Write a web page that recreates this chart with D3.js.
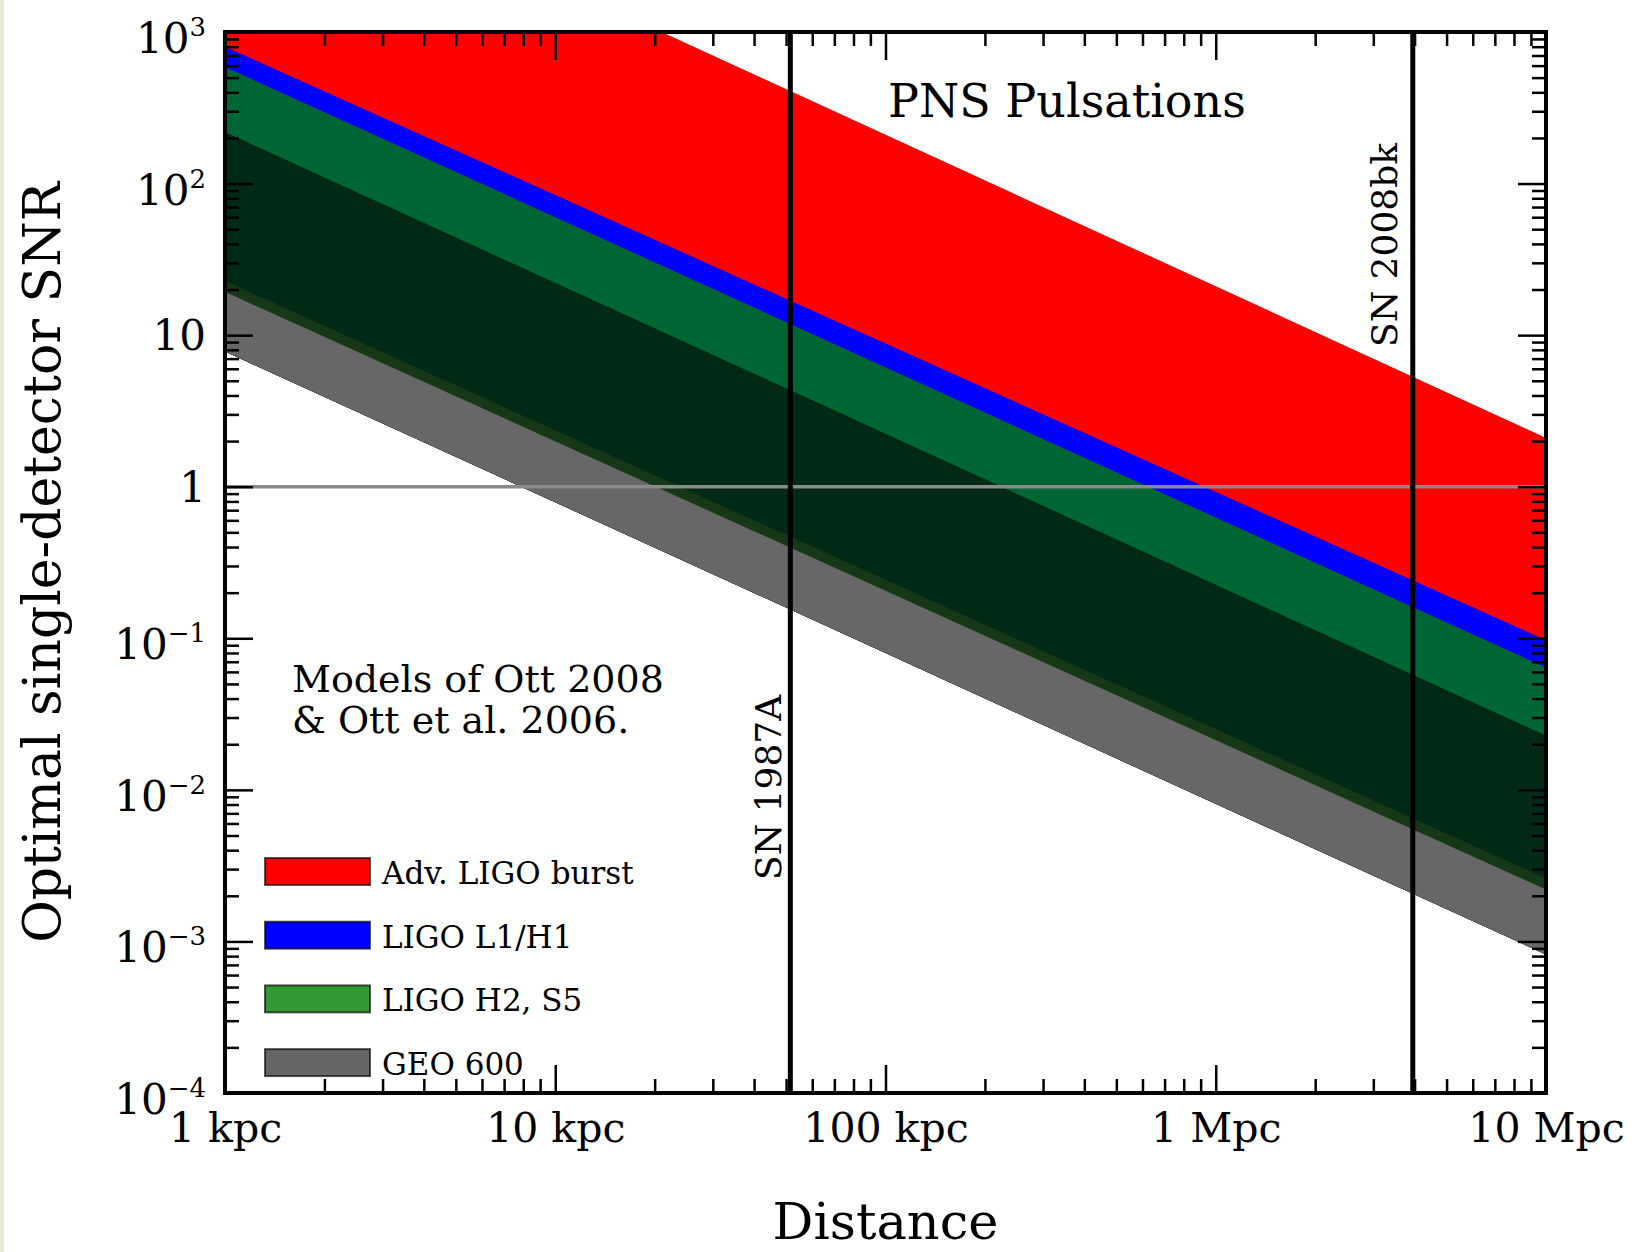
<!DOCTYPE html>
<html>
<head>
<meta charset="utf-8">
<script src="https://cdn.jsdelivr.net/npm/d3@7"></script>
<style>
  body { margin: 0; background: #fff; }
  svg { display: block; }
  text { font-family: "DejaVu Serif", serif; fill: #000; }
</style>
</head>
<body>
<svg id="chart" width="1636" height="1252"></svg>
<script>
// ---- data -------------------------------------------------------------
// Distance span of the plot (kpc): 1 kpc to 10 Mpc
const distanceKpc = [1, 10000];

// Shaded SNR bands, top to bottom: SNR at 1 kpc and at 10 Mpc (SNR ~ 1/D)
const bandUpperAt1kpc  = [21000, 800,   588,   219,    22.8,   19.3];
const bandLowerAt1kpc  = [800,   588,   219,   22.8,   19.3,   7.8];
const bandUpperAt10Mpc = [2.1,   0.097, 0.064, 0.0228, 0.0026, 0.0022];
const bandLowerAt10Mpc = [0.097, 0.064, 0.0228, 0.0026, 0.0022, 0.00082];
const bandFills = ["#ff0000", "#0000ff", "#006633", "#002916", "#163816", "#676767"];

// Detector legend
const legendLabels = ["Adv. LIGO burst", "LIGO L1/H1", "LIGO H2, S5", "GEO 600"];
const legendColors = ["#ff0000", "#0000ff", "#339933", "#666666"];

// Nearby supernovae (distance in kpc)
const supernovaNames = ["SN 1987A", "SN 2008bk"];
const supernovaDistKpc = [51.5, 3950];

// Axis ticks
const xTickValues = [1, 10, 100, 1000, 10000];
const xTickLabels = ["1 kpc", "10 kpc", "100 kpc", "1 Mpc", "10 Mpc"];
const yTickValues = [1e-4, 1e-3, 1e-2, 1e-1, 1, 10, 100, 1000];
const yTickMantissa = ["10", "10", "10", "10", "1", "10", "10", "10"];
const yTickExponent = ["\u22124", "\u22123", "\u22122", "\u22121", "", "", "2", "3"];

// ---- layout -----------------------------------------------------------
const W = 1636, H = 1252;
const L = 225, R = 1546, T = 32, B = 1093;

const svg = d3.select("#chart");
svg.append("rect").attr("width", W).attr("height", H).attr("fill", "#fff");
svg.append("rect").attr("x", 0).attr("y", 0).attr("width", 4).attr("height", H).attr("fill", "#e3ecd6");

const x = d3.scaleLog().domain([distanceKpc[0], distanceKpc[1]]).range([L, R]);
const y = d3.scaleLog().domain([1e-4, 1e3]).range([B, T]);

svg.append("clipPath").attr("id", "plotClip")
  .append("rect").attr("x", L).attr("y", T).attr("width", R - L).attr("height", B - T);

const plot = svg.append("g").attr("clip-path", "url(#plotClip)");

// Bands: straight in log-log between their two end values. Each one is
// painted from its upper edge down to the lowest edge, top band first, so
// the next band covers the rest and no seams show between neighbours.
const last = bandFills.length - 1;
const bands = bandFills.map((fill, i) => ({
  fill,
  pts: [
    { d: distanceKpc[0], lo: bandLowerAt1kpc[last],  hi: bandUpperAt1kpc[i] },
    { d: distanceKpc[1], lo: bandLowerAt10Mpc[last], hi: bandUpperAt10Mpc[i] }
  ]
}));
const area = d3.area()
  .x(p => x(p.d))
  .y0(p => y(p.lo))
  .y1(p => y(p.hi));
plot.selectAll("path.band").data(bands).join("path")
  .attr("class", "band")
  .attr("d", b => area(b.pts))
  .attr("fill", b => b.fill);

// SNR = 1 reference line
plot.append("line")
  .attr("x1", L).attr("x2", R)
  .attr("y1", y(1)).attr("y2", y(1))
  .attr("stroke", "#8a8a8a").attr("stroke-width", 3.5);

// Supernova distance markers
plot.selectAll("line.sn").data(supernovaDistKpc).join("line")
  .attr("class", "sn")
  .attr("x1", d => x(d)).attr("x2", d => x(d))
  .attr("y1", T).attr("y2", B)
  .attr("stroke", "#000").attr("stroke-width", 5);

const snLabelY = [880, 347];
const snLabelOffset = [9, 16];
svg.selectAll("text.snlab").data(supernovaNames).join("text")
  .attr("class", "snlab")
  .attr("transform", (d, i) => `translate(${x(supernovaDistKpc[i]) - snLabelOffset[i]},${snLabelY[i]}) rotate(-90)`)
  .style("font-size", "36px")
  .text(d => d);

// Annotations
svg.append("text").attr("x", 888).attr("y", 117).style("font-size", "46px").text("PNS Pulsations");
svg.append("text").attr("x", 292).attr("y", 692).style("font-size", "38px").text("Models of Ott 2008");
svg.append("text").attr("x", 292).attr("y", 733).style("font-size", "38px").text("& Ott et al. 2006.");

// Legend
const leg = svg.append("g");
legendLabels.forEach((lab, i) => {
  const gy = 858 + i * 63.7;
  leg.append("rect").attr("x", 265).attr("y", gy).attr("width", 105).attr("height", 27)
    .attr("fill", legendColors[i]).attr("stroke", "rgba(0,0,0,0.65)").attr("stroke-width", 2);
  leg.append("text").attr("x", 382).attr("y", gy + 26).style("font-size", "31px").text(lab);
});

// ---- axes -------------------------------------------------------------
const xMinor = x.ticks().filter(v => !xTickValues.includes(v));
const yMinor = y.ticks().filter(v => !yTickValues.some(t => Math.abs(t - v) / t < 1e-9));

function styleAxis(g) {
  g.select(".domain").remove();
  g.attr("color", "#000");
  g.selectAll(".tick line").attr("stroke-width", 2.5);
}

// bottom
svg.append("g").attr("transform", `translate(0,${B})`)
  .call(d3.axisBottom(x).tickValues(xMinor).tickSize(-14).tickFormat(""))
  .call(styleAxis);
svg.append("g").attr("transform", `translate(0,${B})`)
  .call(d3.axisBottom(x).tickValues(xTickValues).tickSizeInner(-28).tickSizeOuter(0)
        .tickPadding(20).tickFormat((d, i) => xTickLabels[i]))
  .call(styleAxis)
  .call(g => g.selectAll("text").attr("font-family", null).style("font-size", "41px").attr("fill", "#000"));
// top
svg.append("g").attr("transform", `translate(0,${T})`)
  .call(d3.axisTop(x).tickValues(xMinor).tickSize(-14).tickFormat(""))
  .call(styleAxis);
svg.append("g").attr("transform", `translate(0,${T})`)
  .call(d3.axisTop(x).tickValues(xTickValues).tickSize(-28).tickFormat(""))
  .call(styleAxis);
// left
svg.append("g").attr("transform", `translate(${L},0)`)
  .call(d3.axisLeft(y).tickValues(yMinor).tickSize(-14).tickFormat(""))
  .call(styleAxis);
svg.append("g").attr("transform", `translate(${L},0)`)
  .call(d3.axisLeft(y).tickValues(yTickValues).tickSize(-28).tickFormat(""))
  .call(styleAxis);
// right
svg.append("g").attr("transform", `translate(${R},0)`)
  .call(d3.axisRight(y).tickValues(yMinor).tickSize(-14).tickFormat(""))
  .call(styleAxis);
svg.append("g").attr("transform", `translate(${R},0)`)
  .call(d3.axisRight(y).tickValues(yTickValues).tickSize(-28).tickFormat(""))
  .call(styleAxis);

// frame
svg.append("rect").attr("x", L).attr("y", T).attr("width", R - L).attr("height", B - T)
  .attr("fill", "none").attr("stroke", "#000").attr("stroke-width", 4);

// y tick labels with superscript exponents
const yLab = svg.append("g").selectAll("text").data(yTickValues).join("text")
  .attr("x", L - 19)
  .attr("y", (d, i) => y(d) + (yTickExponent[i] ? 21 : 15))
  .attr("text-anchor", "end")
  .style("font-size", "42px");
yLab.append("tspan").text((d, i) => yTickMantissa[i]);
yLab.filter((d, i) => yTickExponent[i] !== "")
  .append("tspan").attr("dy", -17).style("font-size", "26px")
  .text(d => yTickExponent[yTickValues.indexOf(d)]);

// axis titles
svg.append("text").attr("x", (L + R) / 2).attr("y", 1239).attr("text-anchor", "middle")
  .style("font-size", "51px").text("Distance");
svg.append("text").attr("transform", `translate(60,${(T + B) / 2}) rotate(-90)`)
  .attr("text-anchor", "middle").style("font-size", "52px").text("Optimal single-detector SNR");
</script>
</body>
</html>
